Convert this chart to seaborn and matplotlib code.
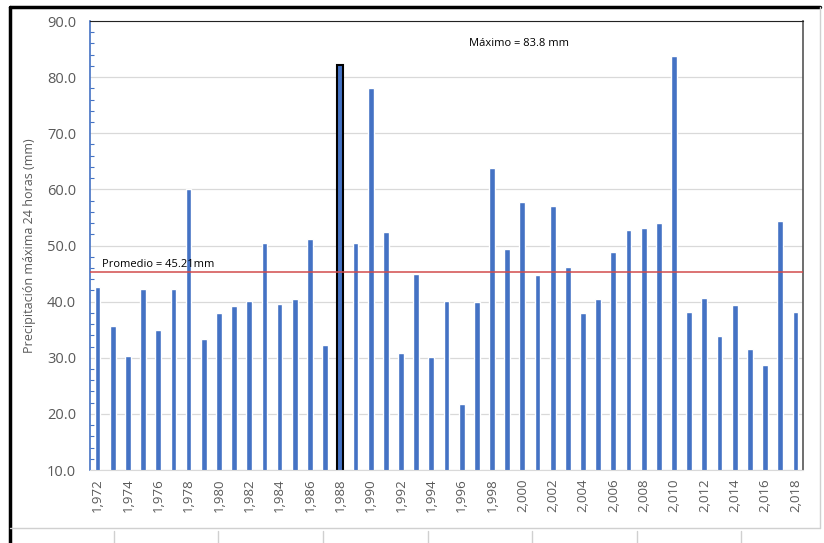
import numpy as np
import pandas as pd
import seaborn as sns
import matplotlib.pyplot as plt
from matplotlib.lines import Line2D
from matplotlib.ticker import MultipleLocator

# Annual maximum 24h precipitation (mm)
years = list(range(1972, 2019))
precip = [42.6, 35.6, 30.4, 42.3, 34.9, 42.3, 60.0, 33.3, 37.9, 39.3,
          40.2, 50.5, 39.6, 40.5, 51.2, 32.3, 82.1, 50.5, 78.1, 52.4,
          30.9, 44.9, 30.2, 40.2, 21.8, 40.0, 63.8, 49.4, 57.8, 44.7,
          57.1, 46.1, 37.9, 40.5, 48.9, 52.7, 53.1, 54.0, 83.8, 38.1,
          40.7, 33.9, 39.4, 31.6, 28.8, 54.3, 38.1]
promedio = 45.21
highlight_year = 1988

df = pd.DataFrame({'Año': [str(y) for y in years], 'Precipitación': precip})

sns.set_style("white")
plt.rcParams['font.family'] = ['Open Sans', 'DejaVu Sans']

fig = plt.figure(figsize=(8.24, 5.43), dpi=100)
ax = fig.add_axes([0.1092, 0.1344, 0.8653, 0.8269])

sns.barplot(data=df, x='Año', y='Precipitación', color='#4472C4',
            saturation=1, width=0.38, ax=ax)

# Highlight the 1988 bar with a black outline
hp = ax.patches[years.index(highlight_year)]
hp.set_edgecolor('black')
hp.set_linewidth(1.5)

# Average line
ax.axhline(promedio, color='#D24B4B', lw=1.1, zorder=3)
ax.text(0.3, promedio + 1.0, 'Promedio = 45.21mm', fontsize=8, color='black')
ax.text(24.5, 85.5, 'Máximo = 83.8 mm', fontsize=8, color='black')

ax.set_ylim(10, 90)
ax.set_xlim(-0.5, len(years) - 0.5)
ax.yaxis.set_major_locator(MultipleLocator(10))
ax.yaxis.set_minor_locator(MultipleLocator(2))
ax.set_yticklabels([f'{v:.1f}' for v in ax.get_yticks()], color='#595959', fontsize=10.5)
ax.yaxis.grid(True, color='#d9d9d9', lw=0.9)
ax.set_axisbelow(True)

ax.set_xticks(range(0, len(years), 2))
ax.set_xticklabels([f'{y:,}' for y in years[::2]], rotation=90, color='#595959', fontsize=9.5)
ax.tick_params(axis='x', length=0, pad=6)
ax.tick_params(axis='y', which='both', direction='in', left=True, color='#4472C4', width=0.8, pad=10)
ax.tick_params(axis='y', which='major', length=0)
ax.tick_params(axis='y', which='minor', length=3)

ax.set_xlabel('')
ax.set_ylabel('Precipitación máxima 24 horas (mm)', color='#595959', fontsize=9, labelpad=8)

ax.spines['left'].set_color('#4472C4')
ax.spines['left'].set_linewidth(1.2)
ax.spines['bottom'].set_color('#d9d9d9')
ax.spines['top'].set_color('#222222')
ax.spines['right'].set_color('#555555')
ax.spines['right'].set_linewidth(1.2)

# Surrounding frame / spreadsheet edges
fig.add_artist(Line2D([10/824, 820/824], [1 - 7/543, 1 - 7/543], color='black', lw=2.5))
fig.add_artist(Line2D([10/824, 10/824], [1 - 7/543, 0], color='black', lw=2.5))
fig.add_artist(Line2D([10/824, 820/824], [1 - 528/543, 1 - 528/543], color='#d0d0d0', lw=1))
fig.add_artist(Line2D([820/824, 820/824], [1 - 7/543, 1 - 528/543], color='#d0d0d0', lw=1))
for xp in [114, 218, 323, 428, 532, 637, 741]:
    fig.add_artist(Line2D([xp/824, xp/824], [1 - 531/543, 0], color='#d0d0d0', lw=1))

fig.savefig('out.png', dpi=100)
